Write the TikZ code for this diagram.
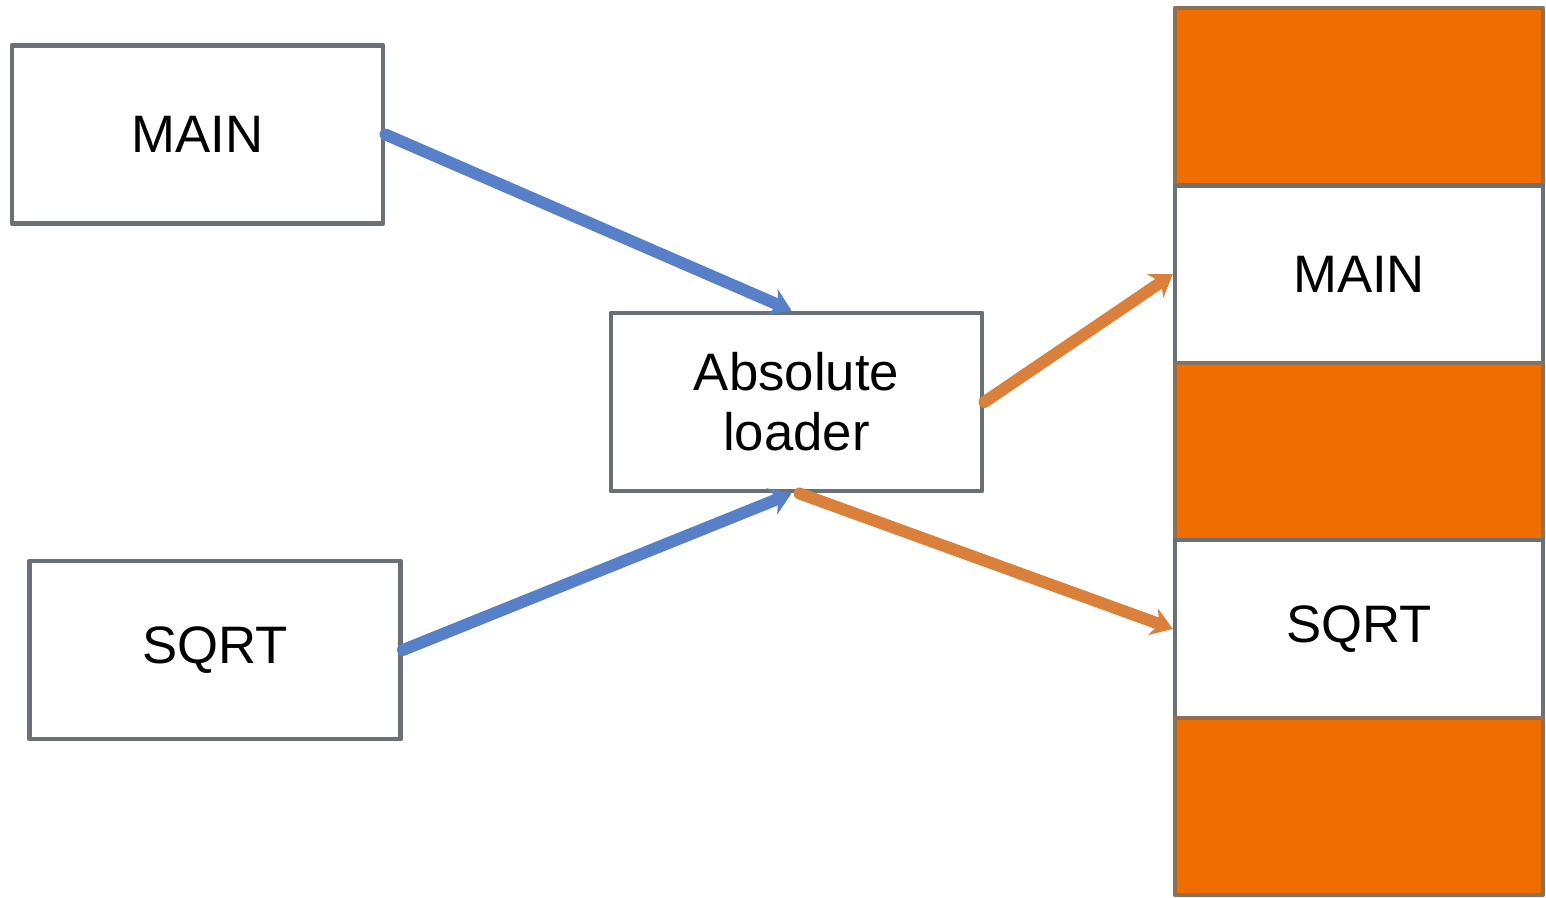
\documentclass[tikz,border=0pt]{standalone}
\usepackage{fontspec}
\setmainfont{Liberation Sans}
\usetikzlibrary{arrows.meta}
\definecolor{boxgray}{RGB}{105,112,118}
\definecolor{linkblue}{RGB}{88,128,200}
\definecolor{linkorange}{RGB}{218,128,58}
\definecolor{memorange}{RGB}{240,110,0}
\begin{document}
\begin{tikzpicture}[font=\fontsize{15}{18}\selectfont, line join=round, line cap=round, >=stealth,
	modbox/.style={draw=boxgray, line width=1.4pt, minimum width=3.71cm, minimum height=1.78cm, align=center},
	memfree/.style={draw=boxgray!70!memorange, line width=1.2pt, fill=memorange, minimum width=3.68cm, minimum height=1.774cm},
	memused/.style={draw=boxgray, line width=1.2pt, fill=white, minimum width=3.68cm, minimum height=1.774cm},
	loadlink/.style={linkblue, line width=3.4pt, -{Stealth[length=6pt,width=8pt]}},
	placelink/.style={linkorange, line width=3.4pt, -{Stealth[length=6pt,width=8pt]}}]
			\useasboundingbox (0,0) rectangle (15.46,-8.97);
			\node[modbox] (main) at (1.975,-1.345) {MAIN};
			\node[modbox] (sqrt) at (2.15,-6.50) {SQRT};
			\node[modbox] (loader) at (7.965,-4.02) {Absolute\\[-1pt]loader};
			\node[memfree] (mem1) at (13.59,-0.967) {};
			\node[memused] (mem2) at (13.59,-2.741) {MAIN};
			\node[memfree] (mem3) at (13.59,-4.515) {};
			\node[memused] (mem4) at (13.59,-6.289) {SQRT};
			\node[memfree] (mem5) at (13.59,-8.063) {};
			\draw[loadlink] (main.east) -- ([xshift=-0.05cm]loader.north);
			\draw[loadlink] (sqrt.east) -- ([xshift=-0.05cm]loader.south);
			\draw[placelink] (loader.east) -- (mem2.west);
			\draw[placelink] ([xshift=0.03cm]loader.south) -- (mem4.west);
		\end{tikzpicture}
\end{document}
